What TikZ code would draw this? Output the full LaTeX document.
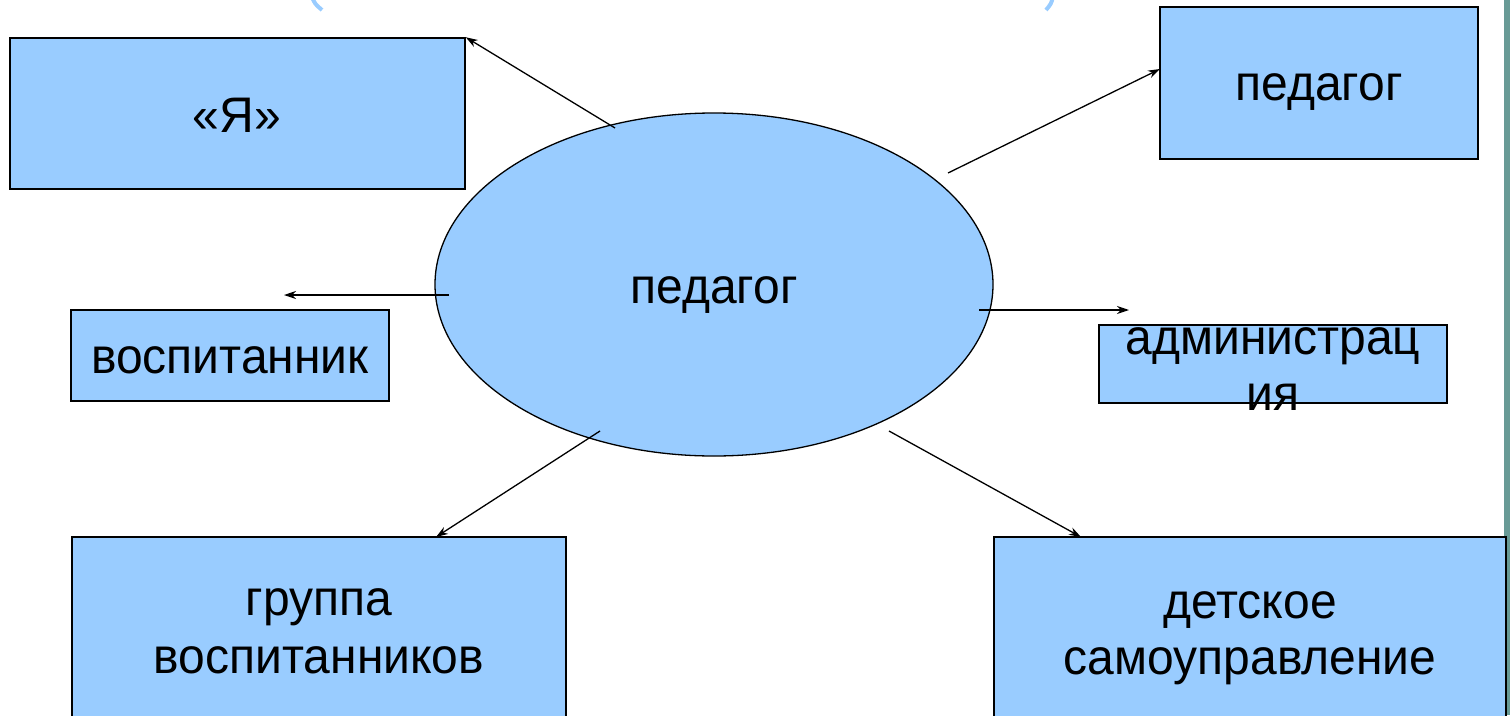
\documentclass[tikz,border=0pt]{standalone}
\usepackage{fontspec}
\setmainfont{Liberation Sans}[FakeStretch=0.96]
\usetikzlibrary{arrows.meta,shapes.geometric}
\definecolor{boxblue}{RGB}{153,204,255}
\definecolor{sideteal}{RGB}{104,154,150}
\begin{document}
\begin{tikzpicture}[x=1pt,y=-1pt,
  box/.style={draw=black, fill=boxblue, line width=1.5pt, rectangle, inner sep=0pt},
  oval/.style={draw=black, fill=boxblue, line width=1.3pt, ellipse, inner sep=0pt},
  lbl/.style={font=\fontsize{50}{57}\selectfont, inner sep=0pt, anchor=base},
  arr/.style={line width=1.3pt, -{Stealth[length=12pt,width=8pt]}},
  paren/.style={draw=boxblue, line width=4pt}
]
\useasboundingbox (0,0) rectangle (1510,715);
\clip (0,0) rectangle (1510,715);
% side rule and title fragments
\fill[sideteal] (1504,0) rectangle (1510,715);
\draw[paren] (312,-3) .. controls (315,4) .. (322,10);
\draw[paren] (1053,-3) .. controls (1051,4) .. (1046,10);
% shapes
\node[oval, minimum width=558pt, minimum height=343pt] (ell) at (714,284.5) {};
\node[box, minimum width=455pt, minimum height=151pt] (ya) at (237.5,113.5) {};
\node[box, minimum width=318pt, minimum height=152pt] (ped) at (1319,83) {};
\node[box, minimum width=318pt, minimum height=91pt] (vos) at (230,355.5) {};
\node[box, minimum width=348pt, minimum height=78pt] (adm) at (1273,364) {};
\node[box, minimum width=494pt, minimum height=203pt] (grp) at (319,638.5) {};
\node[box, minimum width=512pt, minimum height=203pt] (det) at (1250,638.5) {};
% texts
\node[lbl] (tya) at (237,132) {«Я»};
\node[lbl] (tell) at (714,303) {педагог};
\node[lbl] (tped) at (1319,100) {педагог};
\node[lbl] (tvos) at (230,373) {воспитанник};
\node[lbl] (tadmA) at (1273,354) {администрац};
\node[lbl] (tadmB) at (1273,410) {ия};
\node[lbl] (tgrpA) at (319,615) {группа};
\node[lbl] (tgrpB) at (319,673) {воспитанников};
\node[lbl] (tdetA) at (1250,618) {детское};
\node[lbl] (tdetB) at (1250,674) {самоуправление};
% connectors
\coordinate (s1) at (615,128);
\coordinate (s2) at (948,173);
\coordinate (e2) at (1160,69);
\coordinate (s3) at (449,295);
\coordinate (e3) at (284,295);
\coordinate (s4) at (979,310);
\coordinate (e4) at (1129,310);
\coordinate (s5) at (600,431);
\coordinate (e5) at (436,537);
\coordinate (s6) at (889,431);
\coordinate (e6) at (1081,537);
\draw[arr] (s1) -- (ya.north east);
\draw[arr] (s2) -- (e2);
\draw[arr] (s3) -- (e3);
\draw[arr] (s4) -- (e4);
\draw[arr] (s5) -- (e5);
\draw[arr] (s6) -- (e6);
\end{tikzpicture}
\end{document}
